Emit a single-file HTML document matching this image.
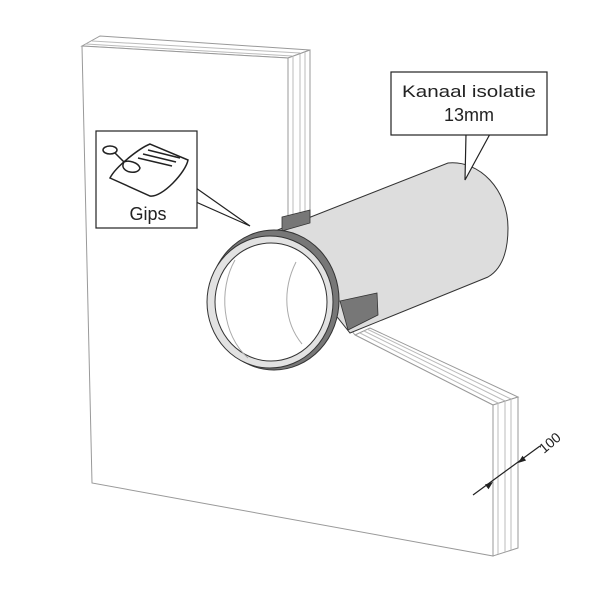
<!DOCTYPE html>
<html><head><style>body{margin:0;background:#fff}svg{display:block}</style></head><body>
<svg width="600" height="600" viewBox="0 0 600 600" xmlns="http://www.w3.org/2000/svg" font-family="Liberation Sans, sans-serif">
<g fill="none" stroke="#999" stroke-width="1">
<polygon points="82,46 100,36 310,50 288,58" fill="#fff"/>
<line x1="86" y1="44" x2="292" y2="56" stroke="#bbb"/>
<line x1="92" y1="41" x2="300" y2="53" stroke="#bbb"/>
<polygon points="288,58 310,50 310,235 288,240" fill="#fff"/>
<line x1="293" y1="56" x2="293" y2="240" stroke="#bbb"/>
<line x1="300" y1="54" x2="300" y2="238" stroke="#bbb"/>
<line x1="305" y1="52" x2="305" y2="236" stroke="#bbb"/>
<polygon points="355,335 370,328 518,397 493,405" fill="#fff"/>
<line x1="360" y1="333" x2="498" y2="403" stroke="#bbb"/>
<line x1="364" y1="331" x2="505" y2="401" stroke="#bbb"/>
<line x1="367" y1="329" x2="511" y2="399" stroke="#bbb"/>
<polygon points="493,405 518,397 518,548 493,556" fill="#fff"/>
<line x1="498" y1="403" x2="498" y2="554" stroke="#bbb"/>
<line x1="505" y1="401" x2="505" y2="552" stroke="#bbb"/>
<line x1="511" y1="399" x2="511" y2="550" stroke="#bbb"/>
<polygon points="82,46 288,58 288,250 355,335 493,405 493,556 92,483" fill="#fff"/>
</g>
<path d="M270,233 L448,163 C480,160 508,190 508,228 C508,255 500,270 488,277 L350,333 Z" fill="#ddd" stroke="#333" stroke-width="1"/>
<polygon points="282,217 310,210 310,223 282,231" fill="#777" stroke="#333" stroke-width="0.8"/>
<polygon points="340,301 377,293 378,315 348,330" fill="#777" stroke="#333" stroke-width="0.8"/>
<ellipse cx="274" cy="300" rx="65" ry="70" fill="#777" stroke="#333"/>
<ellipse cx="270" cy="302" rx="63" ry="66" fill="#e2e2e2" stroke="#333"/>
<ellipse cx="271" cy="302" rx="56" ry="59" fill="#fff" stroke="#333"/>
<path d="M296,262 C282,290 284,322 302,344" fill="none" stroke="#aaa"/>
<path d="M235,260 C218,290 222,335 248,358" fill="none" stroke="#aaa"/>
<polygon points="196,188 250,226 196,202" fill="#fff" stroke="#222" stroke-width="1.2"/>
<rect x="96" y="131" width="101" height="97" fill="#fff" stroke="#222" stroke-width="1.2"/>
<g stroke="#222" fill="#fff" stroke-width="1.5">
<path d="M110,178 L150,196 C162,198 186,172 188,160 L150,144 C140,148 116,166 110,178 Z"/>
<line x1="138" y1="158" x2="172" y2="166"/><line x1="143" y1="154" x2="176" y2="162"/><line x1="148" y1="150" x2="180" y2="158"/>
<ellipse cx="110" cy="150" rx="7" ry="4"/>
<path d="M115,153 L124,162 C118,172 138,176 140,168 C138,162 128,160 124,162"/>
</g>
<text x="148" y="220" font-size="18" text-anchor="middle" fill="#222">Gips</text>
<polygon points="466,134 465,180 490,134" fill="#fff" stroke="#222" stroke-width="1.2"/>
<rect x="391" y="72" width="156" height="63" fill="#fff" stroke="#222" stroke-width="1.2"/>
<text x="469" y="97" font-size="17" text-anchor="middle" fill="#222" textLength="134" lengthAdjust="spacingAndGlyphs">Kanaal isolatie</text>
<text x="469" y="121" font-size="18" text-anchor="middle" fill="#222">13mm</text>
<line x1="473" y1="495" x2="540" y2="446" stroke="#222" stroke-width="1.2"/>
<polygon points="493,482 488.5,489.3 484.9,484.5" fill="#222"/>
<polygon points="518,463 526.1,460.5 522.5,455.7" fill="#222"/>
<text x="544" y="454" font-size="14" fill="#222" transform="rotate(-40 544 454)">100</text>
</svg>
</body></html>
